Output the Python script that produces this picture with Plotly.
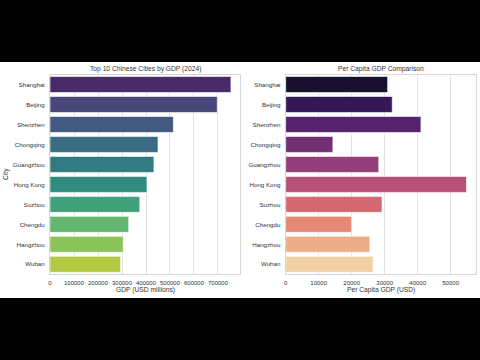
import colorsys
import plotly.graph_objects as go
from plotly.colors import sample_colorscale, sequential, unlabel_rgb

cities = ["Shanghai", "Beijing", "Shenzhen", "Chongqing", "Guangzhou",
          "Hong Kong", "Suzhou", "Chengdu", "Hangzhou", "Wuhan"]
gdp_musd = [754000, 697000, 514000, 450000, 433000, 404000, 374000, 328000, 305000, 294000]
per_capita_usd = [30900, 32300, 41000, 14300, 28200, 54800, 29200, 20000, 25500, 26500]
gdp_ticks = [0, 100000, 200000, 300000, 400000, 500000, 600000, 700000]
pc_ticks = [0, 10000, 20000, 30000, 40000, 50000]

n = len(cities)
pos = [(i + 1) / (n + 1) for i in range(n)]


def desat(col, prop=0.75):
    r, g, b = [c / 255.0 for c in unlabel_rgb(col)]
    h, l, s = colorsys.rgb_to_hls(r, g, b)
    r, g, b = colorsys.hls_to_rgb(h, l, s * prop)
    return "rgb(%d,%d,%d)" % (round(r * 255), round(g * 255), round(b * 255))


viridis_cols = [desat(c) for c in sample_colorscale(sequential.Viridis, pos)]
magma_cols = [desat(c) for c in sample_colorscale(sequential.Magma, pos)]

W, H = 480, 360
def px_x(v):
    return v / W
def px_y(v):
    return 1 - v / H

FONT = "Liberation Sans, Arial, sans-serif"
TXT = "#333333"
GRID = "#e3e3e3"

fig = go.Figure()
fig.add_trace(go.Bar(y=cities, x=gdp_musd, orientation="h", width=0.8,
                     marker=dict(color=viridis_cols, line=dict(width=0.6, color="white")),
                     xaxis="x", yaxis="y", showlegend=False))
fig.add_trace(go.Bar(y=cities, x=per_capita_usd, orientation="h", width=0.8,
                     marker=dict(color=magma_cols, line=dict(width=0.6, color="white")),
                     xaxis="x2", yaxis="y2", showlegend=False))

top, bottom = 74.5, 274.3
ydom = [px_y(bottom), px_y(top)]
common_x = dict(showgrid=True, gridcolor=GRID, gridwidth=1, zeroline=False,
                showline=True, linecolor="#d6d6d6", linewidth=1, mirror=True,
                ticks="outside", ticklen=2, tickcolor="rgba(0,0,0,0)",
                tickfont=dict(size=6, color=TXT, family=FONT), automargin=False)
common_y = dict(showgrid=False, zeroline=False, showline=True, linecolor="#d6d6d6",
                linewidth=1, mirror=True, type="category", categoryorder="array",
                categoryarray=cities, range=[n - 0.5, -0.5],
                ticks="outside", ticklen=3, tickcolor="rgba(0,0,0,0)",
                tickfont=dict(size=6.2, color=TXT, family=FONT), automargin=False)


def ann(text, x, y, angle=0):
    return dict(text=text, x=px_x(x), y=px_y(y), xref="paper", yref="paper",
                xanchor="center", yanchor="middle", showarrow=False, textangle=angle,
                font=dict(size=6.7, color=TXT, family=FONT))


fig.update_layout(
    width=W, height=H,
    margin=dict(l=0, r=0, t=0, b=0),
    paper_bgcolor="black", plot_bgcolor="white",
    font=dict(family=FONT, color=TXT),
    bargap=0.2,
    xaxis=dict(domain=[px_x(50), px_x(240)], range=[0, max(gdp_musd) * 1.05],
               tickvals=gdp_ticks, ticktext=[str(t) for t in gdp_ticks], anchor="y", **common_x),
    yaxis=dict(domain=ydom, anchor="x", **common_y),
    xaxis2=dict(domain=[px_x(285.7), px_x(475.5)], range=[0, max(per_capita_usd) * 1.05],
                tickvals=pc_ticks, ticktext=[str(t) for t in pc_ticks], anchor="y2", **common_x),
    yaxis2=dict(domain=ydom, anchor="x2", **common_y),
    shapes=[dict(type="rect", xref="paper", yref="paper", x0=0, x1=1,
                 y0=px_y(298), y1=px_y(62), fillcolor="white", line=dict(width=0),
                 layer="below")],
    annotations=[
        ann("Top 10 Chinese Cities by GDP (2024)", 145, 69),
        ann("Per Capita GDP Comparison", 380.6, 69),
        ann("GDP (USD millions)", 145, 290),
        ann("Per Capita GDP (USD)", 380.6, 290),
        ann("City", 6, 174, -90),
    ],
)

fig.write_html("out.html", config={"displayModeBar": False},
               post_script="document.body.style.margin='0';")
